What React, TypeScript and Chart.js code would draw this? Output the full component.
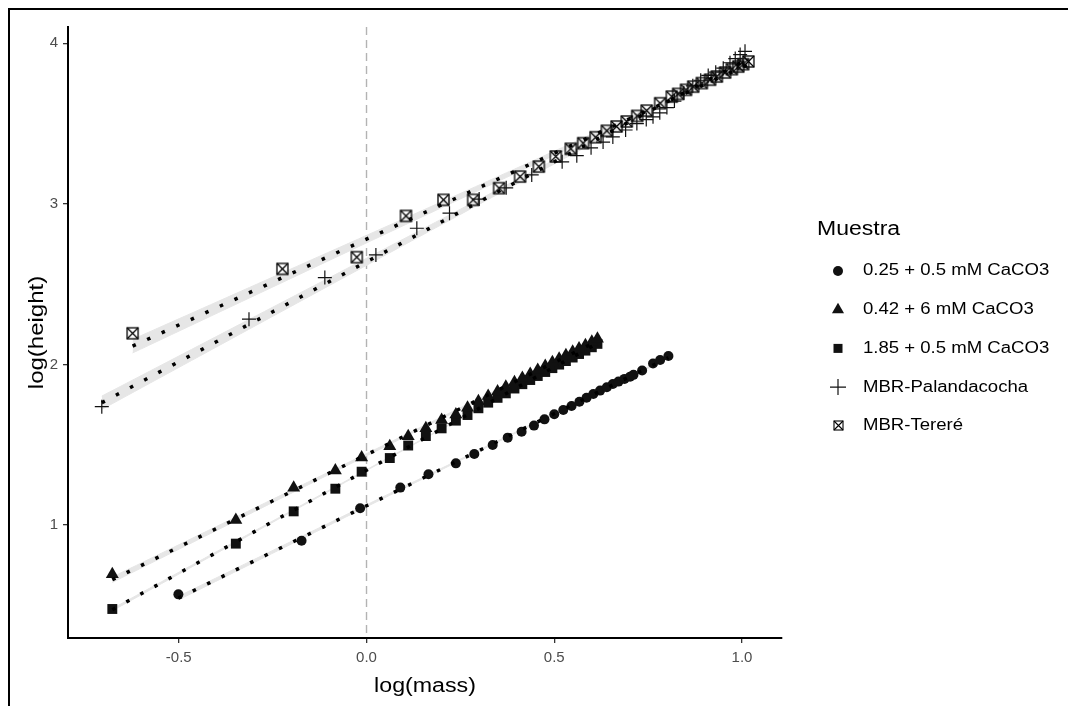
import React, { useEffect, useRef } from "react";
import { Chart, registerables } from "chart.js";

Chart.register(...registerables);

// ---------- data ----------
const seriesNames = [
  "0.25 + 0.5 mM CaCO3",
  "0.42 + 6 mM CaCO3",
  "1.85 + 0.5 mM CaCO3",
  "MBR-Palandacocha",
  "MBR-Tereré",
];

const circleX = [-0.501, -0.173, -0.017, 0.09, 0.165, 0.238, 0.287, 0.336, 0.376, 0.413, 0.446, 0.474, 0.5, 0.524, 0.546, 0.567, 0.586, 0.604, 0.622, 0.64, 0.656, 0.671, 0.687, 0.702, 0.711, 0.734, 0.763, 0.782, 0.804];
const circleY = [0.568, 0.902, 1.104, 1.233, 1.316, 1.384, 1.442, 1.498, 1.544, 1.581, 1.619, 1.658, 1.69, 1.716, 1.741, 1.768, 1.793, 1.816, 1.837, 1.858, 1.878, 1.893, 1.91, 1.924, 1.935, 1.962, 2.006, 2.028, 2.053];

const triangleX = [-0.677, -0.348, -0.194, -0.083, -0.013, 0.062, 0.111, 0.158, 0.2, 0.238, 0.269, 0.298, 0.324, 0.349, 0.371, 0.394, 0.415, 0.436, 0.456, 0.476, 0.495, 0.513, 0.531, 0.549, 0.566, 0.583, 0.6, 0.615];
const triangleY = [0.693, 1.031, 1.232, 1.34, 1.42, 1.49, 1.552, 1.602, 1.654, 1.688, 1.731, 1.77, 1.804, 1.832, 1.861, 1.889, 1.915, 1.941, 1.965, 1.99, 2.013, 2.035, 2.057, 2.079, 2.1, 2.12, 2.141, 2.16];

const squareX = [-0.677, -0.348, -0.194, -0.083, -0.013, 0.062, 0.111, 0.158, 0.2, 0.238, 0.269, 0.298, 0.324, 0.349, 0.371, 0.394, 0.415, 0.436, 0.456, 0.476, 0.495, 0.513, 0.531, 0.549, 0.566, 0.583, 0.6, 0.615];
const squareY = [0.477, 0.884, 1.085, 1.226, 1.332, 1.417, 1.495, 1.554, 1.602, 1.65, 1.685, 1.727, 1.762, 1.792, 1.82, 1.85, 1.877, 1.903, 1.928, 1.953, 1.977, 1.999, 2.021, 2.043, 2.065, 2.086, 2.107, 2.128];

const palX = [-0.705, -0.313, -0.111, 0.025, 0.134, 0.221, 0.3, 0.372, 0.44, 0.521, 0.56, 0.598, 0.63, 0.656, 0.69, 0.72, 0.745, 0.763, 0.781, 0.8, 0.82, 0.845, 0.869, 0.89, 0.91, 0.93, 0.95, 0.968, 0.982, 0.995, 1.008];
const palY = [1.737, 2.282, 2.541, 2.682, 2.848, 2.942, 3.03, 3.1, 3.18, 3.262, 3.3, 3.349, 3.385, 3.417, 3.46, 3.5, 3.525, 3.542, 3.567, 3.6, 3.64, 3.69, 3.735, 3.77, 3.8, 3.82, 3.845, 3.879, 3.905, 3.93, 3.95];

const terX = [-0.623, -0.224, -0.026, 0.105, 0.205, 0.284, 0.353, 0.409, 0.459, 0.504, 0.544, 0.577, 0.61, 0.64, 0.666, 0.693, 0.721, 0.746, 0.782, 0.813, 0.83, 0.851, 0.87, 0.893, 0.915, 0.933, 0.955, 0.973, 0.99, 1.003, 1.017];
const terY = [2.194, 2.595, 2.668, 2.925, 3.025, 3.025, 3.098, 3.17, 3.232, 3.295, 3.343, 3.378, 3.415, 3.455, 3.482, 3.513, 3.548, 3.581, 3.627, 3.668, 3.685, 3.71, 3.73, 3.752, 3.773, 3.793, 3.818, 3.839, 3.855, 3.87, 3.887];

const xTickValues = [-0.5, 0, 0.5, 1.0];
const xTickLabels = ["-0.5", "0.0", "0.5", "1.0"];
const yTickValues = [1, 2, 3, 4];
const yTickLabels = ["1", "2", "3", "4"];
const xTitle = "log(mass)";
const yTitle = "log(height)";
const legendTitle = "Muestra";
const refLineX = 0;

// ---------- helpers ----------
const FONT = "'Liberation Sans', Arial, sans-serif";
const INK = "#111111";

function zip(xs: number[], ys: number[]) {
  return xs.map((x, i) => ({ x, y: ys[i] }));
}

function linearFit(xs: number[], ys: number[], n = 80) {
  const N = xs.length;
  const mx = xs.reduce((a, b) => a + b, 0) / N;
  const my = ys.reduce((a, b) => a + b, 0) / N;
  let sxx = 0;
  let sxy = 0;
  for (let i = 0; i < N; i++) {
    sxx += (xs[i] - mx) ** 2;
    sxy += (xs[i] - mx) * (ys[i] - my);
  }
  const b = sxy / sxx;
  const a = my - b * mx;
  let sse = 0;
  for (let i = 0; i < N; i++) sse += (ys[i] - a - b * xs[i]) ** 2;
  const df = N - 2;
  const s2 = sse / df;
  const t = 1.96 + 2.37 / df + 2.8 / (df * df);
  const xmin = Math.min(...xs);
  const xmax = Math.max(...xs);
  const line: { x: number; y: number }[] = [];
  const lo: { x: number; y: number }[] = [];
  const hi: { x: number; y: number }[] = [];
  for (let k = 0; k < n; k++) {
    const x = xmin + ((xmax - xmin) * k) / (n - 1);
    const yh = a + b * x;
    const se = Math.sqrt(s2 * (1 / N + (x - mx) ** 2 / sxx));
    line.push({ x, y: yh });
    lo.push({ x, y: yh - t * se });
    hi.push({ x, y: yh + t * se });
  }
  return { line, lo, hi };
}

function makeBoxX(size: number, lw: number) {
  const c = document.createElement("canvas");
  const s = Math.ceil(size + lw + 2);
  c.width = s;
  c.height = s;
  const ctx = c.getContext("2d")!;
  const o = (s - size) / 2;
  ctx.strokeStyle = "#000";
  ctx.lineWidth = lw;
  ctx.strokeRect(o, o, size, size);
  ctx.beginPath();
  ctx.moveTo(o, o);
  ctx.lineTo(o + size, o + size);
  ctx.moveTo(o + size, o);
  ctx.lineTo(o, o + size);
  ctx.stroke();
  return c;
}

function drawText(
  ctx: CanvasRenderingContext2D,
  text: string,
  x: number,
  y: number,
  size: number,
  stretch: number,
  align: CanvasTextAlign,
  rotation = 0,
  color = "#000"
) {
  ctx.save();
  ctx.translate(x, y);
  ctx.rotate(rotation);
  ctx.scale(stretch, 1);
  ctx.font = `${size}px ${FONT}`;
  ctx.fillStyle = color;
  ctx.textAlign = align;
  ctx.textBaseline = "middle";
  ctx.fillText(text, 0, 0);
  ctx.restore();
}

function drawSymbol(ctx: CanvasRenderingContext2D, kind: number, x: number, y: number, boxImg: HTMLCanvasElement) {
  ctx.save();
  ctx.fillStyle = INK;
  ctx.strokeStyle = INK;
  ctx.beginPath();
  if (kind === 0) {
    ctx.arc(x, y, 5, 0, Math.PI * 2);
    ctx.fill();
  } else if (kind === 1) {
    const r = 7;
    ctx.moveTo(x, y - r);
    ctx.lineTo(x + r * Math.sin((2 * Math.PI) / 3), y - r * Math.cos((2 * Math.PI) / 3));
    ctx.lineTo(x + r * Math.sin((4 * Math.PI) / 3), y - r * Math.cos((4 * Math.PI) / 3));
    ctx.closePath();
    ctx.fill();
  } else if (kind === 2) {
    ctx.fillRect(x - 4.5, y - 4.5, 9, 9);
  } else if (kind === 3) {
    ctx.lineWidth = 1.2;
    ctx.moveTo(x - 8, y);
    ctx.lineTo(x + 8, y);
    ctx.moveTo(x, y - 8);
    ctx.lineTo(x, y + 8);
    ctx.stroke();
  } else {
    ctx.drawImage(boxImg, Math.round(x - boxImg.width / 2), Math.round(y - boxImg.height / 2));
  }
  ctx.restore();
}

export default function App() {
  const ref = useRef<HTMLCanvasElement | null>(null);

  useEffect(() => {
    const canvas = ref.current;
    if (!canvas) return;

    const boxPlot = makeBoxX(11, 1.3);
    const boxLegend = makeBoxX(9, 1.1);

    const series = [
      { name: seriesNames[0], xs: circleX, ys: circleY, style: "circle", radius: 5, bw: 0 },
      { name: seriesNames[1], xs: triangleX, ys: triangleY, style: "triangle", radius: 7.5, bw: 0 },
      { name: seriesNames[2], xs: squareX, ys: squareY, style: "rect", radius: 7, bw: 0 },
      { name: seriesNames[3], xs: palX, ys: palY, style: "cross", radius: 7, bw: 1.2 },
      { name: seriesNames[4], xs: terX, ys: terY, style: boxPlot as any, radius: 6, bw: 0 },
    ];

    const datasets: any[] = [];
    series.forEach((s) => {
      const f = linearFit(s.xs, s.ys);
      datasets.push({
        label: s.name + " lo",
        data: f.lo,
        showLine: true,
        pointRadius: 0,
        borderColor: "#E6E6E6",
        borderWidth: 1,
        backgroundColor: "#E6E6E6",
        fill: false,
        order: 3,
      });
      datasets.push({
        label: s.name + " hi",
        data: f.hi,
        showLine: true,
        pointRadius: 0,
        borderColor: "#E6E6E6",
        borderWidth: 1,
        backgroundColor: "#E6E6E6",
        fill: "-1",
        order: 3,
      });
      datasets.push({
        label: s.name,
        data: zip(s.xs, s.ys),
        showLine: false,
        pointStyle: s.style,
        pointRadius: s.radius,
        pointHoverRadius: s.radius,
        pointBackgroundColor: INK,
        pointBorderColor: INK,
        pointBorderWidth: s.bw,
        order: 2,
      });
      datasets.push({
        label: s.name + " fit",
        data: f.line,
        showLine: true,
        pointRadius: 0,
        borderColor: "#000000",
        borderWidth: 3.5,
        borderDash: [3.5, 12.5],
        borderCapStyle: "butt",
        fill: false,
        order: 1,
      });
    });

    const refLinePlugin = {
      id: "refLine",
      beforeDatasetsDraw(chart: any) {
        const { ctx, chartArea, scales } = chart;
        const x = scales.x.getPixelForValue(refLineX);
        ctx.save();
        ctx.strokeStyle = "#B3B3B3";
        ctx.lineWidth = 1.4;
        ctx.setLineDash([8, 5]);
        ctx.beginPath();
        ctx.moveTo(x, chartArea.top);
        ctx.lineTo(x, chartArea.bottom);
        ctx.stroke();
        ctx.restore();
      },
    };

    const textPlugin = {
      id: "customText",
      afterDraw(chart: any) {
        const ctx = chart.ctx as CanvasRenderingContext2D;
        const area = chart.chartArea;
        // axis titles
        drawText(ctx, xTitle, (area.left + area.right) / 2, 686, 20, 1.16, "center");
        drawText(ctx, yTitle, 37, (area.top + area.bottom) / 2, 20, 1.2, "center", -Math.PI / 2);
        // legend
        drawText(ctx, legendTitle, 817, 229, 20, 1.15, "left");
        seriesNames.forEach((name, i) => {
          const y = 271 + i * 38.7;
          drawSymbol(ctx, i, 838, y, boxLegend);
          drawText(ctx, name, 863, y, 16, 1.16, "left");
        });
      },
    };

    const chart = new Chart(canvas, {
      type: "scatter",
      data: { datasets },
      options: {
        animation: false,
        responsive: false,
        devicePixelRatio: 1,
        events: [],
        layout: { padding: { left: 0, top: 27, right: 286, bottom: 0 } },
        plugins: {
          legend: { display: false },
          tooltip: { enabled: false },
        },
        scales: {
          x: {
            type: "linear",
            min: -0.795,
            max: 1.1065,
            afterFit: (s: any) => {
              s.height = 68;
            },
            afterBuildTicks: (s: any) => {
              s.ticks = xTickValues.map((v) => ({ value: v }));
            },
            ticks: {
              autoSkip: false,
              maxRotation: 0,
              padding: 6,
              color: "#4D4D4D",
              font: { family: FONT, size: 15 },
              callback: (v: any) => xTickLabels[xTickValues.indexOf(Number(v))] ?? "",
            },
            grid: { drawOnChartArea: false, drawTicks: true, tickLength: 5, color: "#333333", lineWidth: 1.3 },
            border: { display: true, color: "#000000", width: 2 },
            title: { display: false },
          },
          y: {
            type: "linear",
            min: 0.2963,
            max: 4.1015,
            afterFit: (s: any) => {
              s.width = 68;
            },
            afterBuildTicks: (s: any) => {
              s.ticks = yTickValues.map((v) => ({ value: v }));
            },
            ticks: {
              autoSkip: false,
              padding: 5,
              color: "#4D4D4D",
              font: { family: FONT, size: 15 },
              callback: (v: any) => yTickLabels[yTickValues.indexOf(Number(v))] ?? "",
            },
            grid: { drawOnChartArea: false, drawTicks: true, tickLength: 5, color: "#333333", lineWidth: 1.3 },
            border: { display: true, color: "#000000", width: 2 },
            title: { display: false },
          },
        },
      },
      plugins: [refLinePlugin, textPlugin],
    });

    return () => {
      chart.destroy();
    };
  }, []);

  return (
    <div style={{ position: "absolute", left: 0, top: 0, width: 1068, height: 706, background: "#fff" }}>
      <canvas ref={ref} width={1068} height={706} style={{ display: "block", width: 1068, height: 706 }} />
      <div
        style={{
          position: "absolute",
          left: 8,
          top: 8,
          width: 1060,
          height: 698,
          borderLeft: "2px solid #000",
          borderTop: "2px solid #000",
          boxSizing: "border-box",
          pointerEvents: "none",
        }}
      />
    </div>
  );
}
